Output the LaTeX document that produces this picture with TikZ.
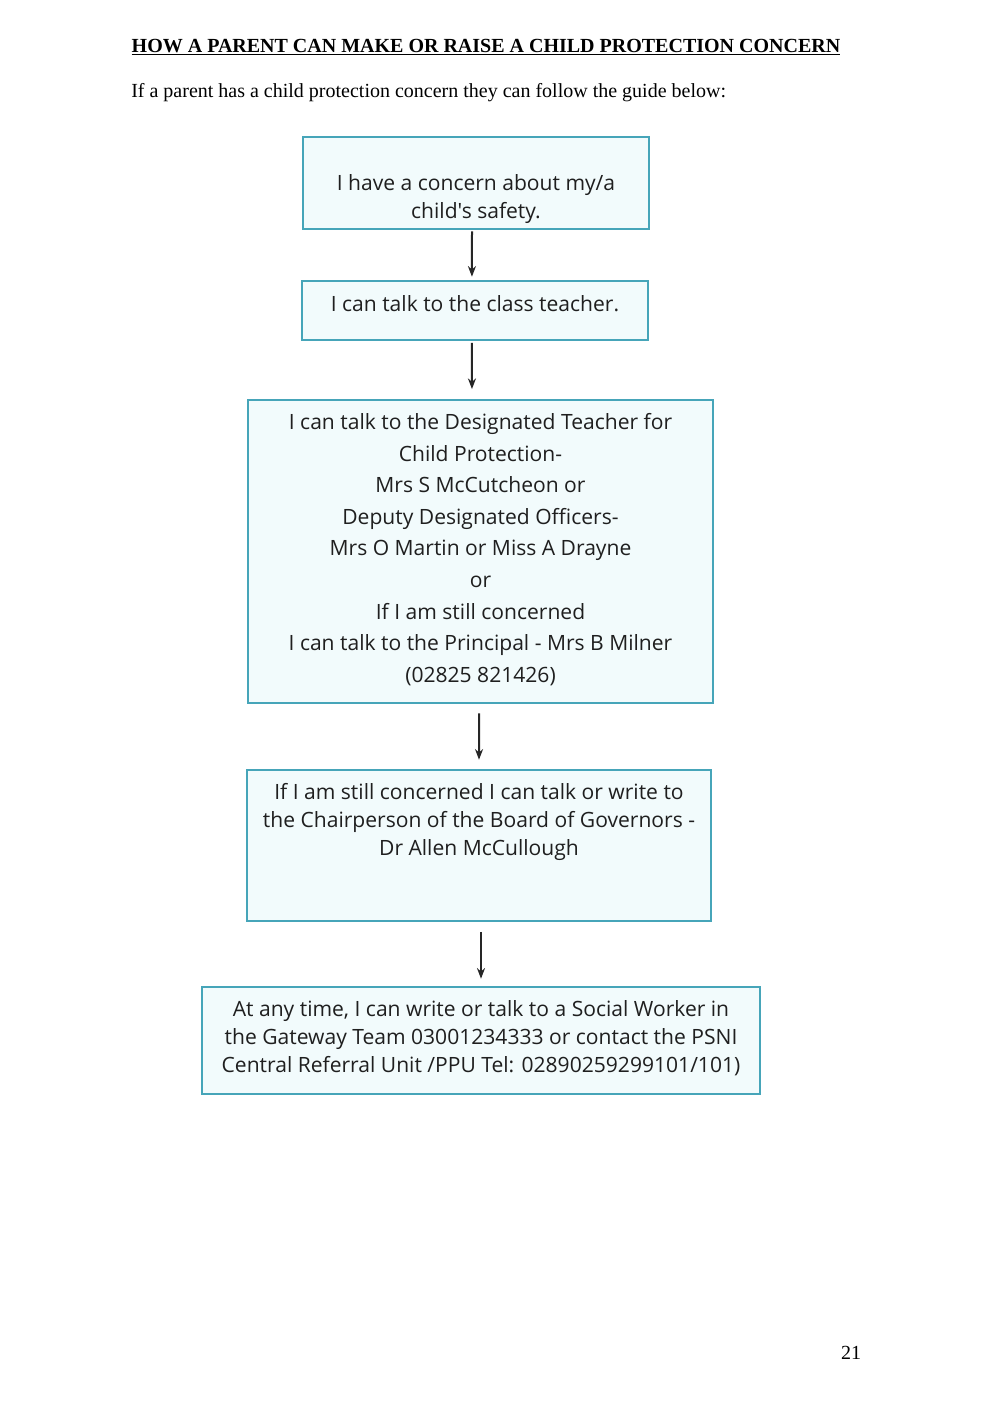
\documentclass[tikz,border=0pt]{standalone}
\usepackage{fontspec}
\setmainfont{Liberation Serif}
\newfontfamily\boxfont{Open Sans}
\usetikzlibrary{arrows.meta}
\definecolor{boxline}{RGB}{70,165,185}
\definecolor{boxfill}{RGB}{242,251,252}
\begin{document}
\begin{tikzpicture}[x=0.75pt,y=-0.75pt,
  flowbox/.style={draw=boxline,fill=boxfill,line width=0.9pt,inner sep=0pt},
  boxtext/.style={font=\boxfont\fontsize{15.8}{21}\selectfont,align=center,inner sep=0pt,text=black!88},
  flowarrow/.style={-{Stealth[length=8pt,width=6pt]},line width=1.5pt,black!85}]
\useasboundingbox (0,0) rectangle (1000,1414);
% title
\node[font=\bfseries\fontsize{15}{17}\selectfont,inner sep=0pt] (title) at (486,47) {\underline{HOW A PARENT CAN MAKE OR RAISE A CHILD PROTECTION CONCERN}};
\node[font=\fontsize{15}{17}\selectfont,anchor=west,inner sep=0pt] (intro) at (131,93) {If a parent has a child protection concern they can follow the guide below:};
% boxes
\draw[flowbox] (303,137) rectangle (649,229);
\node[minimum width=346*0.75pt,minimum height=92*0.75pt,inner sep=0pt] (b1) at (476,183) {};
\draw[flowbox] (302,281) rectangle (648,340);
\node[minimum width=346*0.75pt,minimum height=59*0.75pt,inner sep=0pt] (b2) at (475,310.5) {};
\draw[flowbox] (248,400) rectangle (713,703);
\node[minimum width=465*0.75pt,minimum height=303*0.75pt,inner sep=0pt] (b3) at (480.5,551.5) {};
\draw[flowbox] (247,770) rectangle (711,921);
\node[minimum width=464*0.75pt,minimum height=151*0.75pt,inner sep=0pt] (b4) at (479,845.5) {};
\draw[flowbox] (202,987) rectangle (760,1094);
\node[minimum width=558*0.75pt,minimum height=107*0.75pt,inner sep=0pt] (b5) at (481,1040.5) {};
% texts
\node[boxtext] (t1) at (476,199) {I have a concern about my/a\\child's safety.};
\node[boxtext] (t2) at (475,304) {I can talk to the class teacher.};
\node[boxtext,font=\boxfont\fontsize{15.8}{23.7}\selectfont] (t3) at (480.5,549.5) {I can talk to the Designated Teacher for\\Child Protection-\\Mrs S McCutcheon or\\Deputy Designated Officers-\\Mrs O Martin or Miss A Drayne\\or\\If I am still concerned\\I can talk to the Principal - Mrs B Milner\\(02825 821426)};
\node[boxtext] (t4) at (479,822) {If I am still concerned I can talk or write to\\the Chairperson of the Board of Governors -\\Dr Allen McCullough};
\node[boxtext] (t5) at (481,1038) {At any time, I can write or talk to a Social Worker in\\the Gateway Team 03001234333 or contact the PSNI\\Central Referral Unit /PPU Tel: 02890259299101/101)};
% arrows
\draw[flowarrow] ([xshift=-3pt,yshift=-1.5pt]b1.south) -- ([xshift=-2.3pt,yshift=3pt]b2.north);
\draw[flowarrow] ([xshift=-2.3pt,yshift=-2pt]b2.south) -- ([xshift=-6.4pt,yshift=8pt]b3.north);
\draw[flowarrow] ([xshift=-1pt,yshift=-7.5pt]b3.south) -- ([yshift=7.5pt]b4.north);
\draw[flowarrow] ([xshift=1.5pt,yshift=-8pt]b4.south) -- ([yshift=6pt]b5.north);
% page number
\node[font=\fontsize{15}{17}\selectfont,inner sep=0pt] (page) at (851,1353) {21};
\end{tikzpicture}
\end{document}
